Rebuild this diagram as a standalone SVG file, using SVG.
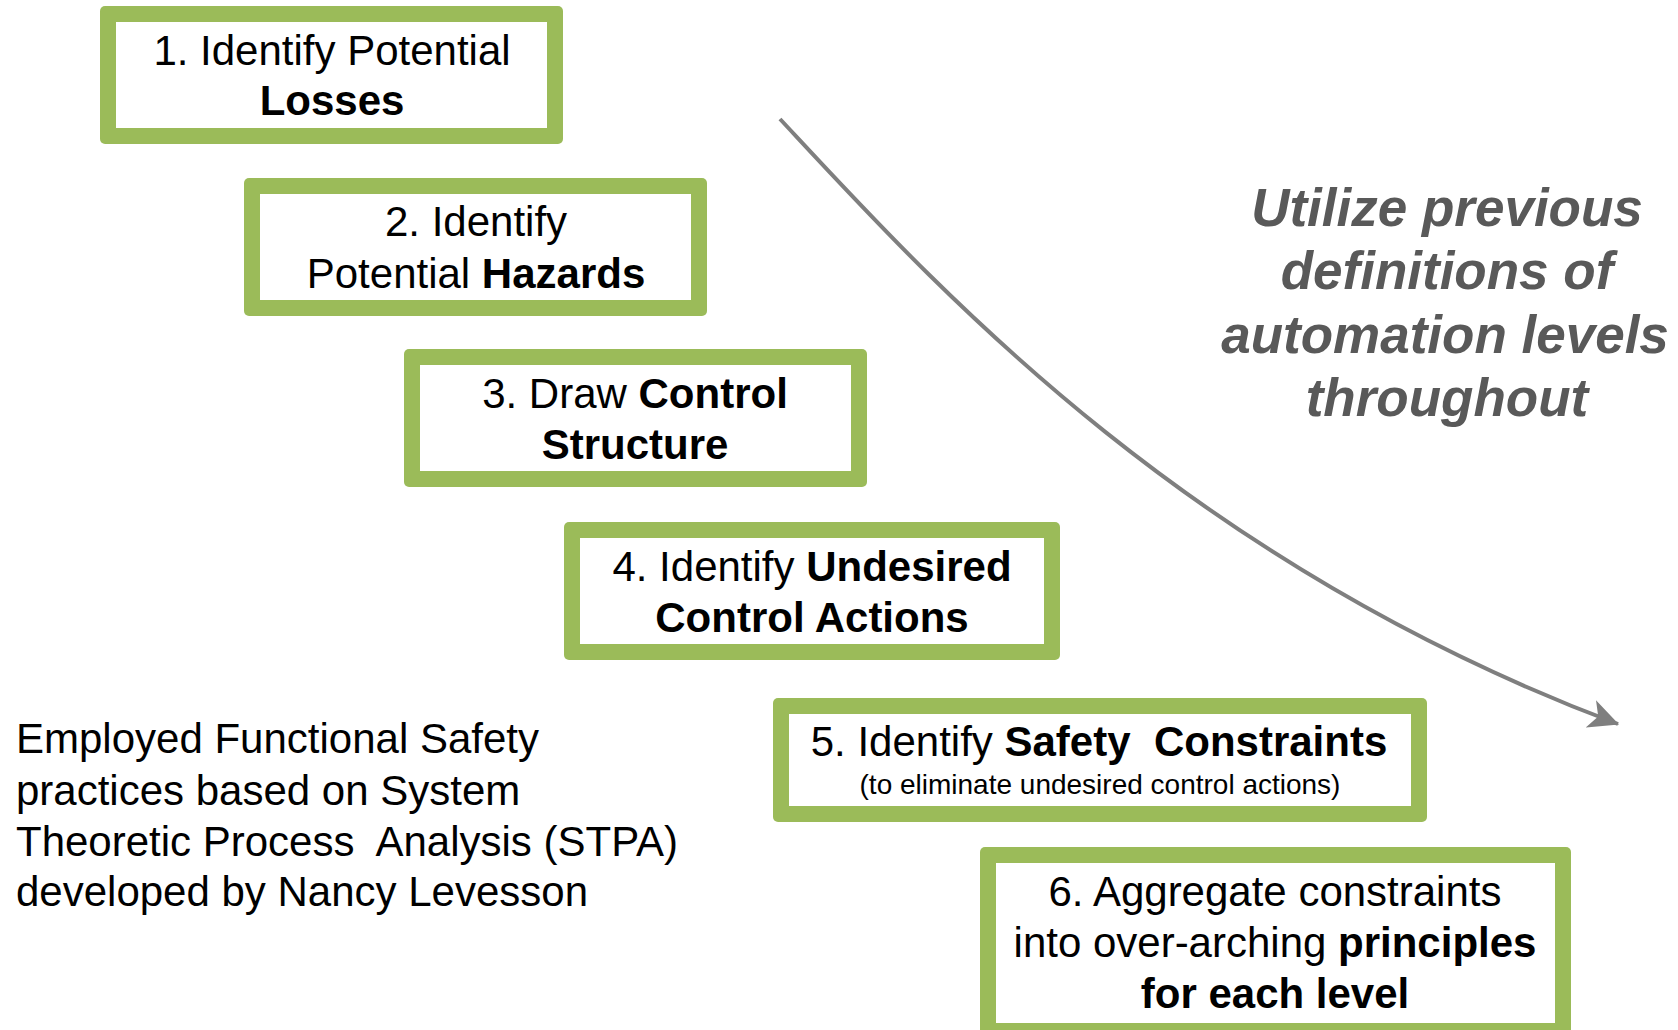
<svg xmlns="http://www.w3.org/2000/svg" width="1678" height="1030" viewBox="0 0 1678 1030">
  <style>
    .frame { fill: #9BBB59; }
    .panel { fill: #FFFFFF; }
    .step { font-family: "Liberation Sans", Arial, sans-serif; font-size: 42px; fill: #000; text-anchor: middle; white-space: pre; }
    .note { font-family: "Liberation Sans", Arial, sans-serif; font-size: 28px; fill: #000; text-anchor: middle; }
    .b { font-weight: bold; }
    .side { font-family: "Liberation Sans", Arial, sans-serif; font-size: 42px; fill: #000; white-space: pre; }
    .hint { font-family: "Liberation Sans", Arial, sans-serif; font-size: 53px; font-weight: bold; font-style: italic; fill: #595959; text-anchor: middle; }
    .flow { fill: none; stroke: #7F7F7F; stroke-width: 4; }
  </style>
  <defs>
    <marker id="head" markerUnits="userSpaceOnUse" markerWidth="30" markerHeight="30" viewBox="0 -13 27 26" refX="26" refY="0" orient="auto">
      <path d="M0,-13 L27,0 L0,13 L7,0 Z" fill="#7F7F7F"/>
    </marker>
  </defs>
  <rect width="1678" height="1030" fill="#FFFFFF"/>

  <g id="connectors">
    <path class="flow" d="M780,119 C930,280 1180,560 1618,724" marker-end="url(#head)"/>
  </g>

  <g id="step1">
    <rect class="frame" x="100" y="6" width="463" height="138" rx="5"/>
    <rect class="panel" x="116" y="22" width="431" height="106"/>
    <text class="step" x="332" y="65">1. Identify Potential</text>
    <text class="step b" x="332" y="115">Losses</text>
  </g>

  <g id="step2">
    <rect class="frame" x="244" y="178" width="463" height="138" rx="5"/>
    <rect class="panel" x="260" y="194" width="431" height="106"/>
    <text class="step" x="476" y="236">2. Identify</text>
    <text class="step" x="476" y="288">Potential <tspan class="b">Hazards</tspan></text>
  </g>

  <g id="step3">
    <rect class="frame" x="404" y="349" width="463" height="138" rx="5"/>
    <rect class="panel" x="420" y="365" width="431" height="106"/>
    <text class="step" x="635" y="408">3. Draw <tspan class="b">Control</tspan></text>
    <text class="step b" x="635" y="459">Structure</text>
  </g>

  <g id="step4">
    <rect class="frame" x="564" y="522" width="496" height="138" rx="5"/>
    <rect class="panel" x="580" y="538" width="464" height="106"/>
    <text class="step" x="812" y="581">4. Identify <tspan class="b">Undesired</tspan></text>
    <text class="step b" x="812" y="632">Control Actions</text>
  </g>

  <g id="step5">
    <rect class="frame" x="773" y="698" width="654" height="124" rx="5"/>
    <rect class="panel" x="789" y="714" width="622" height="92"/>
    <text class="step" x="1099" y="756">5. Identify <tspan class="b">Safety  Constraints</tspan></text>
    <text class="note" x="1100" y="794">(to eliminate undesired control actions)</text>
  </g>

  <g id="step6">
    <rect class="frame" x="980" y="847" width="591" height="192" rx="5"/>
    <rect class="panel" x="996" y="863" width="559" height="160"/>
    <text class="step" x="1275" y="906">6. Aggregate constraints</text>
    <text class="step" x="1275" y="957">into over-arching <tspan class="b">principles</tspan></text>
    <text class="step b" x="1275" y="1008">for each level</text>
  </g>

  <g id="method-note">
    <text class="side" x="16" y="753">Employed Functional Safety</text>
    <text class="side" x="16" y="805">practices based on System</text>
    <text class="side" x="16" y="856">Theoretic Process  Analysis (STPA)</text>
    <text class="side" x="16" y="906">developed by Nancy Levesson</text>
  </g>

  <g id="automation-hint">
    <text class="hint" x="1447" y="226">Utilize previous</text>
    <text class="hint" x="1447" y="289">definitions of</text>
    <text class="hint" x="1445" y="353">automation levels</text>
    <text class="hint" x="1447" y="416">throughout</text>
  </g>
</svg>
